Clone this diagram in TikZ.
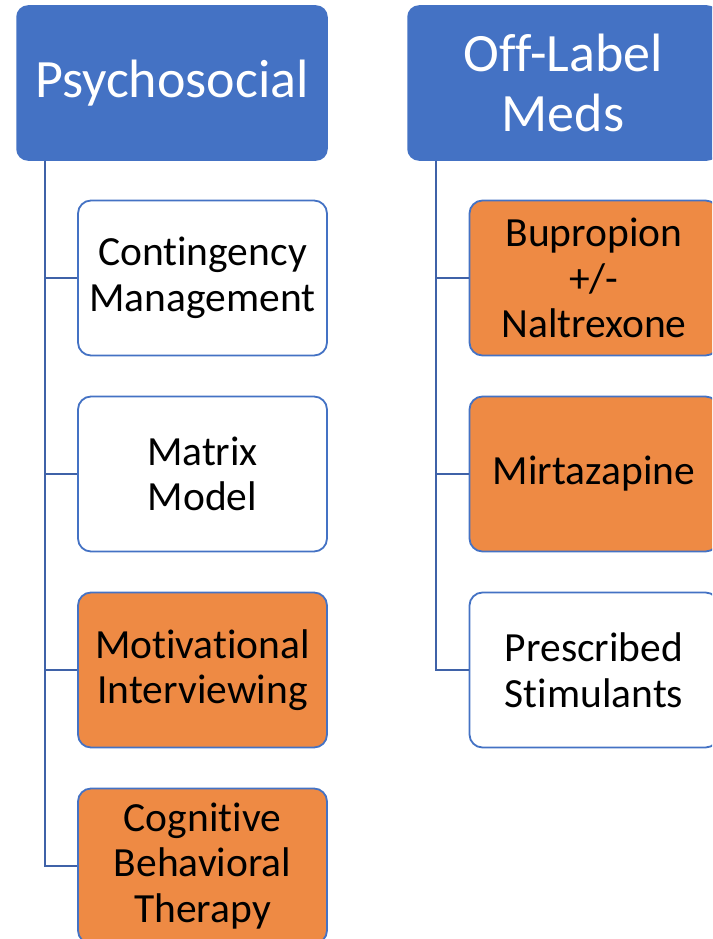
\documentclass[tikz,border=0pt]{standalone}
\usepackage{fontspec}
\setmainfont[Ligatures=NoCommon]{Carlito}
\definecolor{hdrblue}{HTML}{4472C4}
\definecolor{lineblue}{HTML}{3F62A8}
\definecolor{boxorange}{HTML}{EE8A44}
\begin{document}
\begin{tikzpicture}[x=1pt,y=-1pt,
  hdrbox/.style={draw=hdrblue,fill=hdrblue,line width=1.5pt,rounded corners=11pt,
    minimum width=310pt,minimum height=154pt,inner sep=0pt,align=center,text=white,
    font=\fontsize{54}{60}\selectfont},
  childbox/.style={draw=hdrblue,fill=white,line width=1.8pt,rounded corners=13pt,
    minimum width=249pt,minimum height=155pt,inner sep=0pt,align=center,text=black,
    font=\fontsize{41.5}{45.5}\selectfont},
  hot/.style={childbox,fill=boxorange},
  conn/.style={draw=lineblue,line width=1.8pt}]
\clip (0,0) rectangle (712,939);
\fill[white] (0,0) rectangle (712,939);
% headers
\node[hdrbox] (ps) at (172,83) {Psychosocial};
\node[hdrbox] (ol) at (563,83) {Off-Label\\Meds};
% left children
\node[childbox] (cm) at (202.5,278) {Contingency\\Management};
\node[childbox] (mm) at (202.5,474) {Matrix\\Model};
\node[hot] (mi) at (202.5,670) {Motivational\\Interviewing};
\node[hot] (cbt) at (202.5,866) {Cognitive\\Behavioral\\Therapy};
% right children
\node[hot] (bn) at (594,278) {Bupropion\\+/-\\Naltrexone};
\node[hot] (mz) at (594,474) {Mirtazapine};
\node[childbox] (st) at (594,670) {Prescribed\\Stimulants};
% connectors
\coordinate (pl) at ([xshift=29pt]ps.south west);
\coordinate (or) at ([xshift=29pt]ol.south west);
\draw[conn] (pl) |- (cm.west);
\draw[conn] (pl) |- (mm.west);
\draw[conn] (pl) |- (mi.west);
\draw[conn] (pl) |- (cbt.west);
\draw[conn] (or) |- (bn.west);
\draw[conn] (or) |- (mz.west);
\draw[conn] (or) |- (st.west);
\end{tikzpicture}
\end{document}
